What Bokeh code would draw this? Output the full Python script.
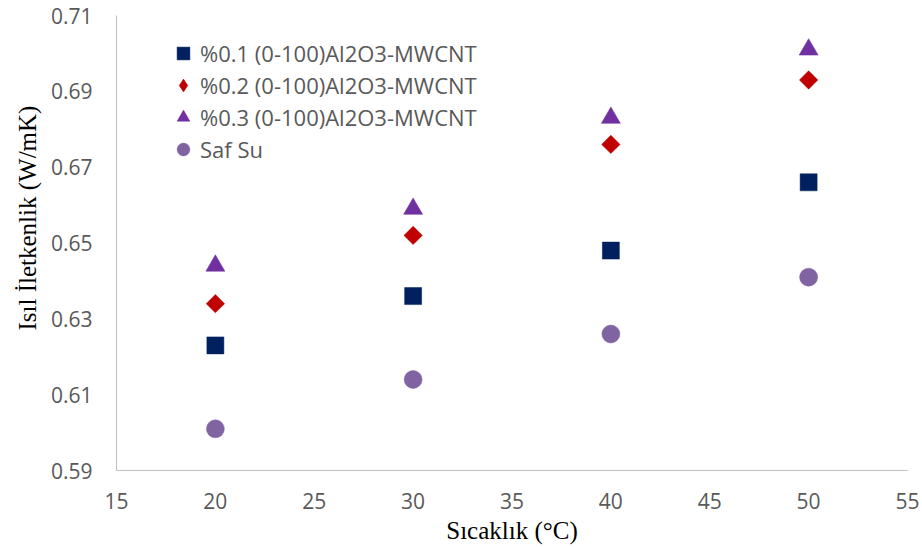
import math

from bokeh.embed import file_html
from bokeh.resources import INLINE
from bokeh.plotting import figure
from bokeh.models import (ColumnDataSource, FixedTicker, Legend, LegendItem,
                          CustomJSTickFormatter, Title)

# Thermal conductivity of (0-100) Al2O3-MWCNT nanofluids vs. pure water
temperature = [20, 30, 40, 50]
k_01 = [0.623, 0.636, 0.648, 0.666]
k_02 = [0.634, 0.652, 0.676, 0.693]
k_03 = [0.644, 0.659, 0.683, 0.701]
k_water = [0.601, 0.614, 0.626, 0.641]

series_labels = [
    "%0.1 (0-100)Al2O3-MWCNT",
    "%0.2 (0-100)Al2O3-MWCNT",
    "%0.3 (0-100)Al2O3-MWCNT",
    "Saf Su",
]

x_ticks = [15, 20, 25, 30, 35, 40, 45, 50, 55]
y_ticks = [0.59, 0.61, 0.63, 0.65, 0.67, 0.69, 0.71]

x_title = "Sıcaklık (°C)"
y_title = "Isıl İletkenlik (W/mK)"

TICK_FONT = "Open Sans"
TITLE_FONT = "Liberation Serif"
GREY_TEXT = "#595959"
AXIS_GREY = "#BFBFBF"

p = figure(
    width=922, height=547,
    x_range=(x_ticks[0], x_ticks[-1]),
    y_range=(y_ticks[0], y_ticks[-1]),
    output_backend="svg", toolbar_location=None,
    min_border_left=116, min_border_right=15,
    min_border_top=15, min_border_bottom=77,
)
p.outline_line_color = None
p.xgrid.visible = False
p.ygrid.visible = False
p.background_fill_color = "white"
p.border_fill_color = "white"

# axes
p.xaxis.ticker = FixedTicker(ticks=x_ticks)
p.yaxis.ticker = FixedTicker(ticks=y_ticks)
p.yaxis.formatter = CustomJSTickFormatter(code="return tick.toFixed(2);")
for ax in (p.xaxis, p.yaxis):
    ax.axis_line_color = AXIS_GREY
    ax.axis_line_width = 1
    ax.major_tick_line_color = None
    ax.minor_tick_line_color = None
    ax.major_tick_out = 0
    ax.major_tick_in = 0
    ax.minor_tick_out = 0
    ax.minor_tick_in = 0
    ax.major_label_text_font = TICK_FONT
    ax.major_label_text_font_size = "21px"
    ax.major_label_text_color = GREY_TEXT

p.xaxis.axis_label = x_title
p.xaxis.axis_label_text_font = TITLE_FONT
p.xaxis.axis_label_text_font_size = "25px"
p.xaxis.axis_label_text_font_style = "normal"
p.xaxis.axis_label_text_color = "#000000"
p.xaxis.major_label_standoff = 22
p.xaxis.axis_label_standoff = 5
p.yaxis.major_label_standoff = 24

# vertical title, anchored from the bottom of the axis and lifted upward
y_label = Title(
    text=y_title, align="left", offset=140, standoff=14,
    text_font=TITLE_FONT, text_font_size="25px", text_font_style="normal",
    text_color="#000000",
)
p.add_layout(y_label, "left")

src = ColumnDataSource(dict(t=temperature, a=k_01, b=k_02, c=k_03, w=k_water))

r_01 = p.scatter("t", "a", source=src, marker="square", size=17,
                 fill_color="#002060", line_color="#002060", line_width=0.5)
r_02 = p.scatter("t", "b", source=src, marker="square", size=13,
                 angle=math.pi / 4,
                 fill_color="#C00000", line_color="#C00000", line_width=0.5)
r_03 = p.scatter("t", "c", source=src, marker="triangle", size=19,
                 fill_color="#7030A0", line_color="#7030A0", line_width=0.5)
r_w = p.scatter("t", "w", source=src, marker="circle", size=18,
                fill_color="#8064A2", line_color="#8064A2", line_width=0.5)

# legend swatch for the diamond series (the rotated square loses its angle
# inside a legend, so a hidden diamond renderer supplies the key glyph)
r_02_key = p.scatter("t", "b", source=src, marker="diamond", size=13,
                     fill_color="#C00000", line_color="#C00000",
                     line_width=0.5, visible=False)

legend = Legend(
    items=[LegendItem(label=lbl, renderers=[r])
           for lbl, r in zip(series_labels, [r_01, r_02_key, r_03, r_w])],
    location=(50, 305),
    orientation="vertical",
    glyph_width=34, glyph_height=32,
    label_standoff=0, spacing=0, padding=0, margin=0,
    label_text_font=TICK_FONT, label_text_font_size="22px",
    label_text_color=GREY_TEXT,
    border_line_color=None, background_fill_alpha=0,
    inactive_fill_alpha=0,
)
p.add_layout(legend, "center")

open("out.html", "w").write(file_html(p, INLINE))
